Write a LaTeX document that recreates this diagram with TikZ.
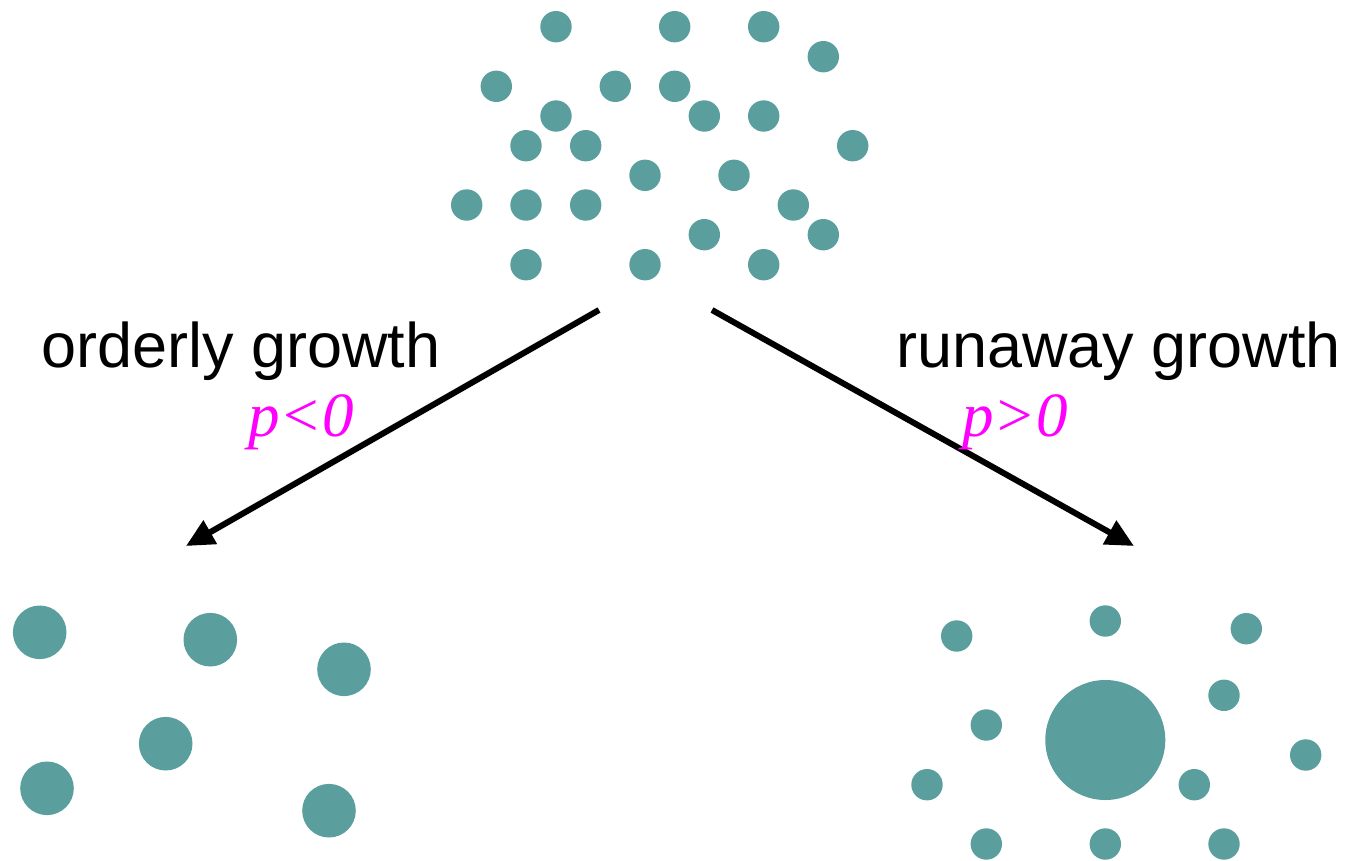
\documentclass[tikz,border=0pt]{standalone}
\usepackage{fontspec}
\setmainfont{Liberation Sans}
\newfontfamily\timesit{Liberation Serif}[UprightFont=*-Italic]
\usetikzlibrary{arrows.meta}
\definecolor{teal}{RGB}{90,158,158}
\definecolor{pink}{RGB}{255,0,255}
\tikzset{
  dot/.style={fill=teal},
  label/.style={inner sep=0pt, font=\fontsize{63}{70}\selectfont},
  cond/.style={inner sep=0pt, text=pink, font=\timesit\fontsize{63}{70}\selectfont},
  growth/.style={line width=6pt, -{Triangle[length=28pt,width=26pt]}}
}
\begin{document}
\begin{tikzpicture}[x=1pt,y=-1pt]
\useasboundingbox (0,0) rectangle (1350,860);

% initial swarm of small bodies
\foreach \x/\y in {556/26.7, 674.7/26.7, 763.7/26.7, 823.3/56.7,
  496.3/86.3, 615.3/86.3, 674.7/86.3, 556/116, 704.3/116, 763.7/116,
  526/145.7, 585.7/145.7, 852.7/145.7, 645/175.3, 734/175.3,
  466.7/205, 526/205, 585.7/205, 793.3/205, 704.3/234.7, 823.3/234.7,
  526/264.7, 645/264.7, 763.7/264.7}
  \fill[dot] (\x,\y) circle (15.7);

% orderly growth: bodies of similar size
\foreach \x/\y in {39.7/632.3, 210.3/639.7, 344/669.3, 165.7/743.7,
  47/788.3, 329/810.7}
  \fill[dot] (\x,\y) circle (26.8);

% runaway growth: one large body among small ones
\fill[dot] (1105.3,740) circle (60);
\foreach \x/\y in {956.7/636, 1105.3/621, 1246.3/628.7, 1224/695.3,
  986.3/725, 1305.7/755, 927/784.7, 1194.3/784.7, 986.3/844,
  1105.3/844, 1224/844}
  \fill[dot] (\x,\y) circle (15.7);

% branches
\coordinate (srcL) at (599,310);
\coordinate (srcR) at (712,310);
\coordinate (dstL) at (186,546);
\coordinate (dstR) at (1134,546);
\draw[growth] (srcL) -- (dstL);
\draw[growth] (srcR) -- (dstR);

\node[label, anchor=base west] (orderly) at (41,367) {orderly growth};
\node[label, anchor=base west] (runaway) at (896,367) {runaway growth};
\node[cond, anchor=base] (pneg) at (301,436) {p<0};
\node[cond, anchor=base] (ppos) at (1015,436) {p>0};
\end{tikzpicture}
\end{document}
